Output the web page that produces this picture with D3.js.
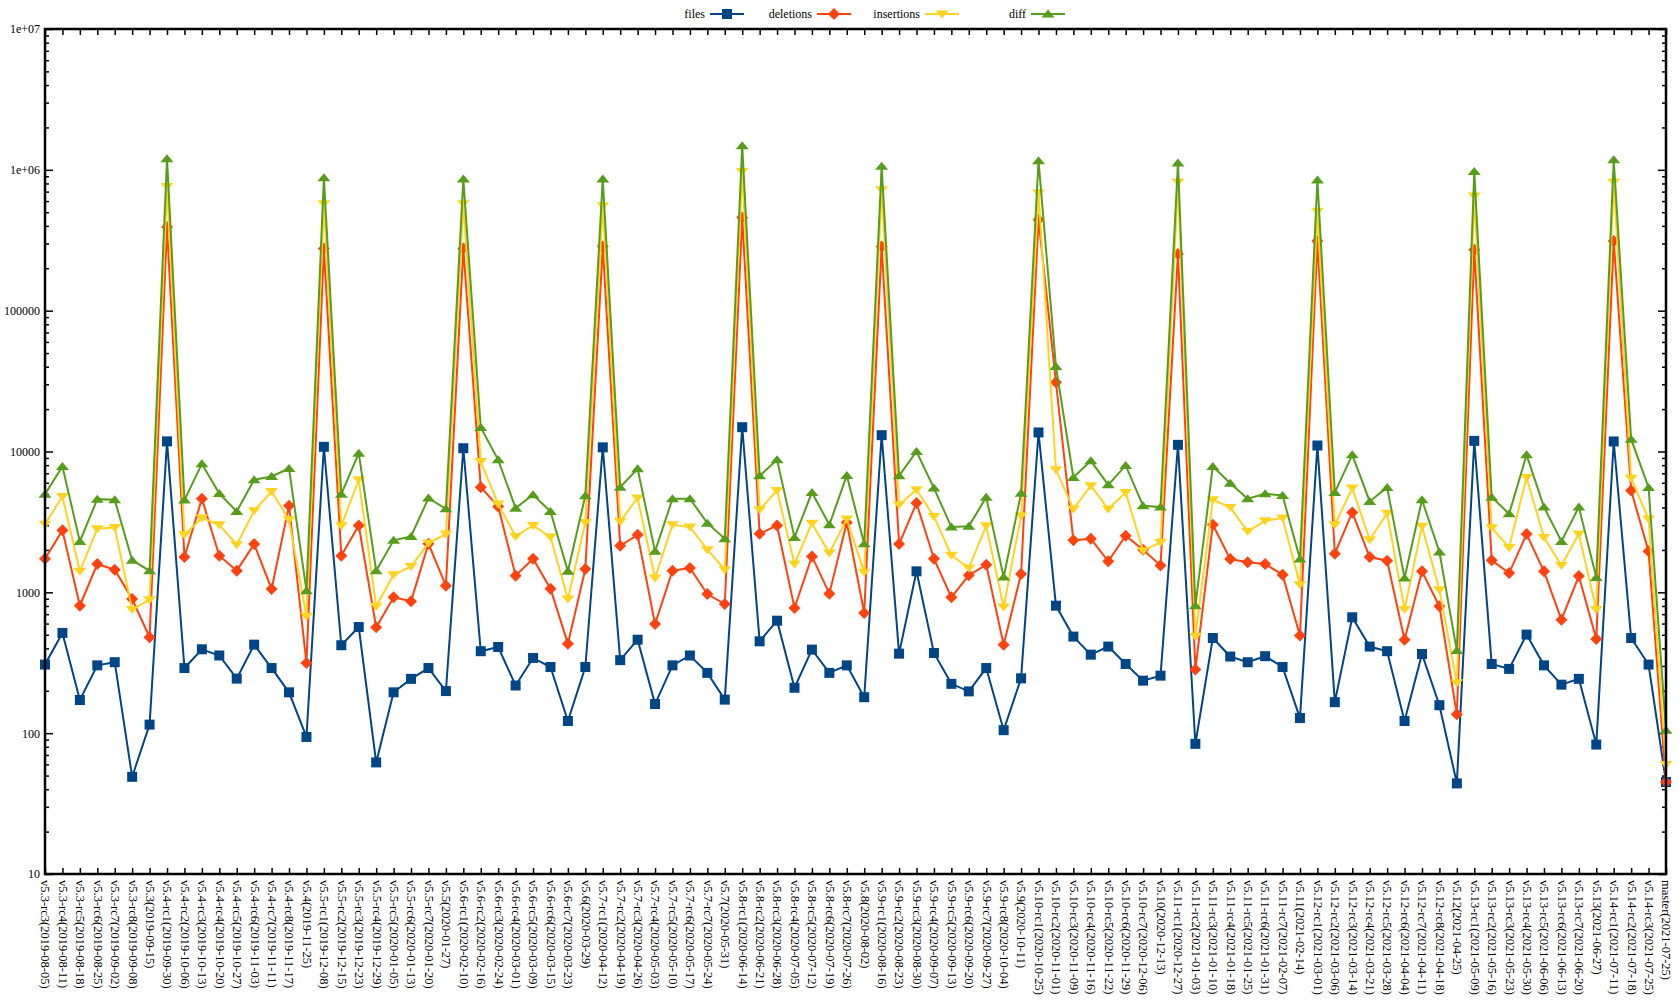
<!DOCTYPE html>
<html>
<head>
<meta charset="utf-8">
<script src="https://cdn.jsdelivr.net/npm/d3@7"></script>
<style>
html,body{margin:0;padding:0;background:#fff;}
svg{display:block;}
text{font-family:"Liberation Serif","DejaVu Serif",serif;fill:#000;}
</style>
</head>
<body>
<svg id="chart" width="1679" height="1002"></svg>
<script>
const categories = [
"v5.3-rc3(2019-08-05)","v5.3-rc4(2019-08-11)","v5.3-rc5(2019-08-18)","v5.3-rc6(2019-08-25)","v5.3-rc7(2019-09-02)","v5.3-rc8(2019-09-08)","v5.3(2019-09-15)",
"v5.4-rc1(2019-09-30)","v5.4-rc2(2019-10-06)","v5.4-rc3(2019-10-13)","v5.4-rc4(2019-10-20)","v5.4-rc5(2019-10-27)","v5.4-rc6(2019-11-03)","v5.4-rc7(2019-11-11)","v5.4-rc8(2019-11-17)","v5.4(2019-11-25)",
"v5.5-rc1(2019-12-08)","v5.5-rc2(2019-12-15)","v5.5-rc3(2019-12-23)","v5.5-rc4(2019-12-29)","v5.5-rc5(2020-01-05)","v5.5-rc6(2020-01-13)","v5.5-rc7(2020-01-20)","v5.5(2020-01-27)",
"v5.6-rc1(2020-02-10)","v5.6-rc2(2020-02-16)","v5.6-rc3(2020-02-24)","v5.6-rc4(2020-03-01)","v5.6-rc5(2020-03-09)","v5.6-rc6(2020-03-15)","v5.6-rc7(2020-03-23)","v5.6(2020-03-29)",
"v5.7-rc1(2020-04-12)","v5.7-rc2(2020-04-19)","v5.7-rc3(2020-04-26)","v5.7-rc4(2020-05-03)","v5.7-rc5(2020-05-10)","v5.7-rc6(2020-05-17)","v5.7-rc7(2020-05-24)","v5.7(2020-05-31)",
"v5.8-rc1(2020-06-14)","v5.8-rc2(2020-06-21)","v5.8-rc3(2020-06-28)","v5.8-rc4(2020-07-05)","v5.8-rc5(2020-07-12)","v5.8-rc6(2020-07-19)","v5.8-rc7(2020-07-26)","v5.8(2020-08-02)",
"v5.9-rc1(2020-08-16)","v5.9-rc2(2020-08-23)","v5.9-rc3(2020-08-30)","v5.9-rc4(2020-09-07)","v5.9-rc5(2020-09-13)","v5.9-rc6(2020-09-20)","v5.9-rc7(2020-09-27)","v5.9-rc8(2020-10-04)","v5.9(2020-10-11)",
"v5.10-rc1(2020-10-25)","v5.10-rc2(2020-11-01)","v5.10-rc3(2020-11-09)","v5.10-rc4(2020-11-16)","v5.10-rc5(2020-11-22)","v5.10-rc6(2020-11-29)","v5.10-rc7(2020-12-06)","v5.10(2020-12-13)",
"v5.11-rc1(2020-12-27)","v5.11-rc2(2021-01-03)","v5.11-rc3(2021-01-10)","v5.11-rc4(2021-01-18)","v5.11-rc5(2021-01-25)","v5.11-rc6(2021-01-31)","v5.11-rc7(2021-02-07)","v5.11(2021-02-14)",
"v5.12-rc1(2021-03-01)","v5.12-rc2(2021-03-06)","v5.12-rc3(2021-03-14)","v5.12-rc4(2021-03-21)","v5.12-rc5(2021-03-28)","v5.12-rc6(2021-04-04)","v5.12-rc7(2021-04-11)","v5.12-rc8(2021-04-18)","v5.12(2021-04-25)",
"v5.13-rc1(2021-05-09)","v5.13-rc2(2021-05-16)","v5.13-rc3(2021-05-23)","v5.13-rc4(2021-05-30)","v5.13-rc5(2021-06-06)","v5.13-rc6(2021-06-13)","v5.13-rc7(2021-06-20)","v5.13(2021-06-27)",
"v5.14-rc1(2021-07-11)","v5.14-rc2(2021-07-18)","v5.14-rc3(2021-07-25)","master(2021-07-25)"
];

const files = [
307,515,172,303,319,49,115,
11800,290,394,356,244,425,290,195,94,
10800,421,567,62,195,243,290,199,
10550,382,409,218,342,295,122,295,
10700,330,461,161,303,356,268,173,
14880,449,629,210,392,268,303,180,
13060,367,1410,371,224,198,290,105,245,
13650,804,485,361,412,310,236,256,
11150,84,474,350,319,352,295,128,
11030,166,665,412,382,122,365,158,44,
11900,310,286,501,303,221,243,83,
11780,474,307,45
];

const deletions = [
1733,2754,804,1589,1448,897,480,
392000,1780,4620,1820,1425,2200,1057,4120,315,
276000,1820,2985,565,922,863,2213,1115,
276000,5580,4070,1313,1733,1062,432,1463,
286000,2142,2560,596,1425,1488,973,826,
459000,2607,2985,774,1800,979,3135,713,
286000,2200,4300,1733,922,1320,1570,425,1349,
443000,31000,2339,2404,1660,2522,2008,1553,
253000,283,3020,1722,1633,1589,1334,493,
312000,1880,3690,1780,1678,461,1410,796,136,
271000,1687,1371,2592,1410,640,1305,467,
312000,5290,1954,45
];

const insertions = [
3050,4800,1410,2830,2890,754,887,
762000,2560,3370,3020,2180,3800,5200,3270,676,
575000,2970,6300,796,1334,1528,2239,2592,
575000,8490,4230,2496,2985,2468,897,3135,
556000,3190,4670,1264,3020,2906,2008,1448,
975000,3856,5290,1589,3100,1900,3311,1387,
723000,4190,5350,3460,1830,1488,2970,787,3500,
687000,7410,3900,5710,3900,5120,1975,2264,
818000,488,4540,4010,2710,3220,3370,1133,
509000,3020,5500,2364,3650,754,2940,1045,228,
652000,2870,2085,6540,2455,1553,2592,754,
818000,6470,3311,60
];

const diff = [
4980,7830,2300,4590,4540,1690,1425,
1200000,4520,8180,5030,3750,6300,6650,7570,1028,
877000,4980,9730,1425,2339,2496,4670,3920,
861000,14800,8730,3960,4930,3750,1410,4850,
861000,5580,7540,1954,4620,4620,3100,2404,
1480000,6720,8730,2455,5120,3020,6760,2213,
1060000,6720,10000,5500,2906,2940,4740,1285,5060,
1160000,40100,6540,8590,5800,7960,4120,4030,
1120000,804,7830,5960,4620,5010,4870,1722,
847000,5120,9470,4420,5560,1264,4540,1932,386,
975000,4740,3610,9470,4030,2300,4030,1277,
1180000,12230,5560,105
];

const seriesNames = ["files","deletions","insertions","diff"];
const seriesColors = ["#004586","#ff420e","#ffd320","#579d1c"];
const yTickValues = [10,100,1000,10000,100000,1000000,10000000];
const yTickLabels = ["10","100","1000","10000","100000","1e+06","1e+07"];

const L = 45, R = 1666, T = 29, B = 874;
const svg = d3.select("#chart");

const x = d3.scalePoint().domain(categories).range([L, R]).padding(0);
const y = d3.scaleLog().domain([10, 1e7]).range([B, T]);

// marker shapes
const sq = {draw(c, s){ const h=5; c.moveTo(-h,-h); c.lineTo(h,-h); c.lineTo(h,h); c.lineTo(-h,h); c.closePath(); }};
const dia = {draw(c, s){ const h=6; c.moveTo(0,-h); c.lineTo(h,0); c.lineTo(0,h); c.lineTo(-h,0); c.closePath(); }};
const triDown = {draw(c, s){ c.moveTo(-6.5,-3.5); c.lineTo(6.5,-3.5); c.lineTo(0,4.5); c.closePath(); }};
const triUp = {draw(c, s){ c.moveTo(-6.5,3.5); c.lineTo(6.5,3.5); c.lineTo(0,-4.5); c.closePath(); }};
const shapes = [sq, dia, triDown, triUp];

const seriesData = [files, deletions, insertions, diff];

// minor ticks values
const minor = [];
for (let e = 1; e < 7; e++) for (let m = 2; m <= 9; m++) minor.push(m * Math.pow(10, e));

// axes
const gAx = svg.append("g");
gAx.append("g").attr("transform", `translate(0,${B})`)
  .call(d3.axisBottom(x).tickSizeInner(-6).tickSizeOuter(0).tickPadding(0))
  .call(g => g.select(".domain").remove())
  .call(g => g.selectAll(".tick line").attr("stroke","#000").attr("stroke-width",1.5))
  .call(g => g.selectAll("text")
      .attr("transform","rotate(90)")
      .attr("x", 6).attr("y", 0).attr("dy","0.33em")
      .style("text-anchor","start")
      .style("font-family",'"Liberation Serif",serif')
      .style("font-size","12.5px"));
gAx.append("g").attr("transform", `translate(0,${T})`)
  .call(d3.axisTop(x).tickSizeInner(-6).tickSizeOuter(0).tickFormat(""))
  .call(g => g.select(".domain").remove())
  .call(g => g.selectAll(".tick line").attr("stroke","#000").attr("stroke-width",1.5));

gAx.append("g").attr("transform", `translate(${L},0)`)
  .call(d3.axisLeft(y).tickValues(yTickValues).tickFormat((d,i)=>yTickLabels[i]).tickSizeInner(-8).tickSizeOuter(0).tickPadding(5))
  .call(g => g.select(".domain").remove())
  .call(g => g.selectAll(".tick line").attr("stroke","#000").attr("stroke-width",1.5))
  .call(g => g.selectAll("text").style("font-family",'"Liberation Serif",serif').style("font-size","12px"));
gAx.append("g").attr("transform", `translate(${L},0)`)
  .call(d3.axisLeft(y).tickValues(minor).tickFormat("").tickSizeInner(-4).tickSizeOuter(0))
  .call(g => g.select(".domain").remove())
  .call(g => g.selectAll(".tick line").attr("stroke","#000").attr("stroke-width",1.5));
gAx.append("g").attr("transform", `translate(${R},0)`)
  .call(d3.axisRight(y).tickValues(yTickValues).tickFormat("").tickSizeInner(-8).tickSizeOuter(0))
  .call(g => g.select(".domain").remove())
  .call(g => g.selectAll(".tick line").attr("stroke","#000").attr("stroke-width",1.5));
gAx.append("g").attr("transform", `translate(${R},0)`)
  .call(d3.axisRight(y).tickValues(minor).tickFormat("").tickSizeInner(-4).tickSizeOuter(0))
  .call(g => g.select(".domain").remove())
  .call(g => g.selectAll(".tick line").attr("stroke","#000").attr("stroke-width",1.5));

// series
const line = d3.line().x((d,i)=>x(categories[i])).y(d=>y(d));
seriesData.forEach((vals, k) => {
  const g = svg.append("g");
  g.append("path").datum(vals).attr("d", line)
    .attr("fill","none").attr("stroke", seriesColors[k]).attr("stroke-width", 2).attr("stroke-linejoin","miter");
  g.selectAll("path.m").data(vals).join("path").attr("class","m")
    .attr("transform", (d,i)=>`translate(${x(categories[i])},${y(d)})`)
    .attr("d", d3.symbol().type(shapes[k])())
    .attr("fill", seriesColors[k]);
});

// frame
svg.append("rect").attr("x", L).attr("y", T).attr("width", R-L).attr("height", B-T)
  .attr("fill","none").attr("stroke","#000").attr("stroke-width",2.5);

// legend
const legX = [727, 834, 942, 1048];
const legY = 14;
const leg = svg.append("g");
seriesNames.forEach((name, k) => {
  const cx = legX[k];
  leg.append("text").attr("x", cx - 22).attr("y", legY).attr("dy","0.33em")
    .attr("text-anchor","end").style("font-size","12px").text(name);
  leg.append("line").attr("x1", cx - 17).attr("x2", cx + 17).attr("y1", legY).attr("y2", legY)
    .attr("stroke", seriesColors[k]).attr("stroke-width", 2);
  leg.append("path").attr("transform", `translate(${cx},${legY})`)
    .attr("d", d3.symbol().type(shapes[k])()).attr("fill", seriesColors[k]);
});
</script>
</body>
</html>
